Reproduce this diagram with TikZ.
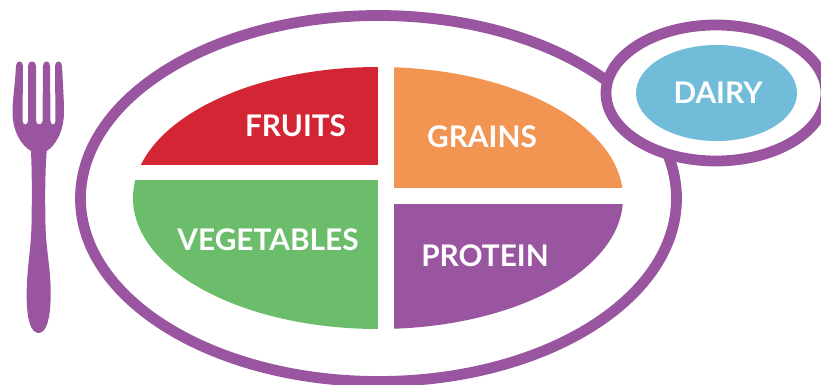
\documentclass[tikz,border=0pt]{standalone}
\usepackage{fontspec}
\setmainfont{Lato}
\usetikzlibrary{positioning, shapes.geometric}
\definecolor{fruitsred}{HTML}{D42535}
\definecolor{grainsorange}{HTML}{F29452}
\definecolor{vegetablesgreen}{HTML}{6BBD6B}
\definecolor{proteinpurple}{HTML}{9A55A0}
\definecolor{dairyblue}{HTML}{70BCD9}

\begin{document}
\begin{tikzpicture}[
    x=1pt, y=-1pt,
    rim/.style={ellipse, draw=proteinpurple, line width=10.8pt, fill=white, inner sep=0pt},
    label/.style={text=white, font=\fontsize{29.8}{30}\selectfont\bfseries, inner sep=0pt},
]
    \useasboundingbox (0,0) rectangle (821,385);

    % plate and side dish
    \node[rim, minimum width=596pt, minimum height=366pt] (plate) at (378.5,198.5) {};
    \node[rim, minimum width=220pt, minimum height=136pt] (dish) at (716,93) {};
    \node[ellipse, fill=dairyblue, minimum width=161pt, minimum height=96pt, inner sep=0pt] (dairy) at (716.5,93) {};

    % food groups, cut out of one ellipse
    \begin{scope}
        \clip (378,198) ellipse [x radius=245, y radius=131];
        \fill[fruitsred] (120,60) rectangle (378,165);
        \fill[grainsorange] (394,60) rectangle (640,188);
        \fill[vegetablesgreen] (120,180) rectangle (378,340);
        \fill[proteinpurple] (394,204) rectangle (640,340);
    \end{scope}

    \node[label] (fruits) at (295.5,126) {FRUITS};
    \node[label] (grains) at (482,137) {GRAINS};
    \node[label] (vegetables) at (268,240) {VEGETABLES};
    \node[label] (protein) at (485,256) {PROTEIN};
    \node[label] (dairylabel) at (718,93) {DAIRY};

    % fork
    \fill[proteinpurple] (16,66) .. controls (16,60) and (23,60) .. (23,66)
        -- (22.5,121) .. controls (22.5,125.5) and (28,125.5) .. (28,121)
        -- (28,66) .. controls (28,60) and (36,60) .. (36,66)
        -- (36,121) .. controls (36,125.5) and (42.5,125.5) .. (42.5,121)
        -- (43,66) .. controls (43,60) and (50,60) .. (50,66)
        -- (50.5,121) .. controls (50.5,125.5) and (55.5,125.5) .. (55.5,121)
        -- (55,66) .. controls (55,60) and (62,60) .. (62,66)
        .. controls (63,85) and (64,100) .. (64,112)
        .. controls (64,132) and (55,146) .. (46.7,151)
        .. controls (45,175) and (45,195) .. (45.5,225)
        .. controls (46,250) and (51,270) .. (50.7,295)
        .. controls (50.5,320) and (46,333) .. (38.7,333)
        .. controls (31,333) and (26.5,320) .. (26.7,295)
        .. controls (26.5,270) and (31,250) .. (31.5,225)
        .. controls (32,195) and (32,175) .. (31,151)
        .. controls (22,146) and (12.5,132) .. (12.5,112)
        .. controls (12.5,100) and (15,85) .. (16,66) -- cycle;
\end{tikzpicture}
\end{document}
